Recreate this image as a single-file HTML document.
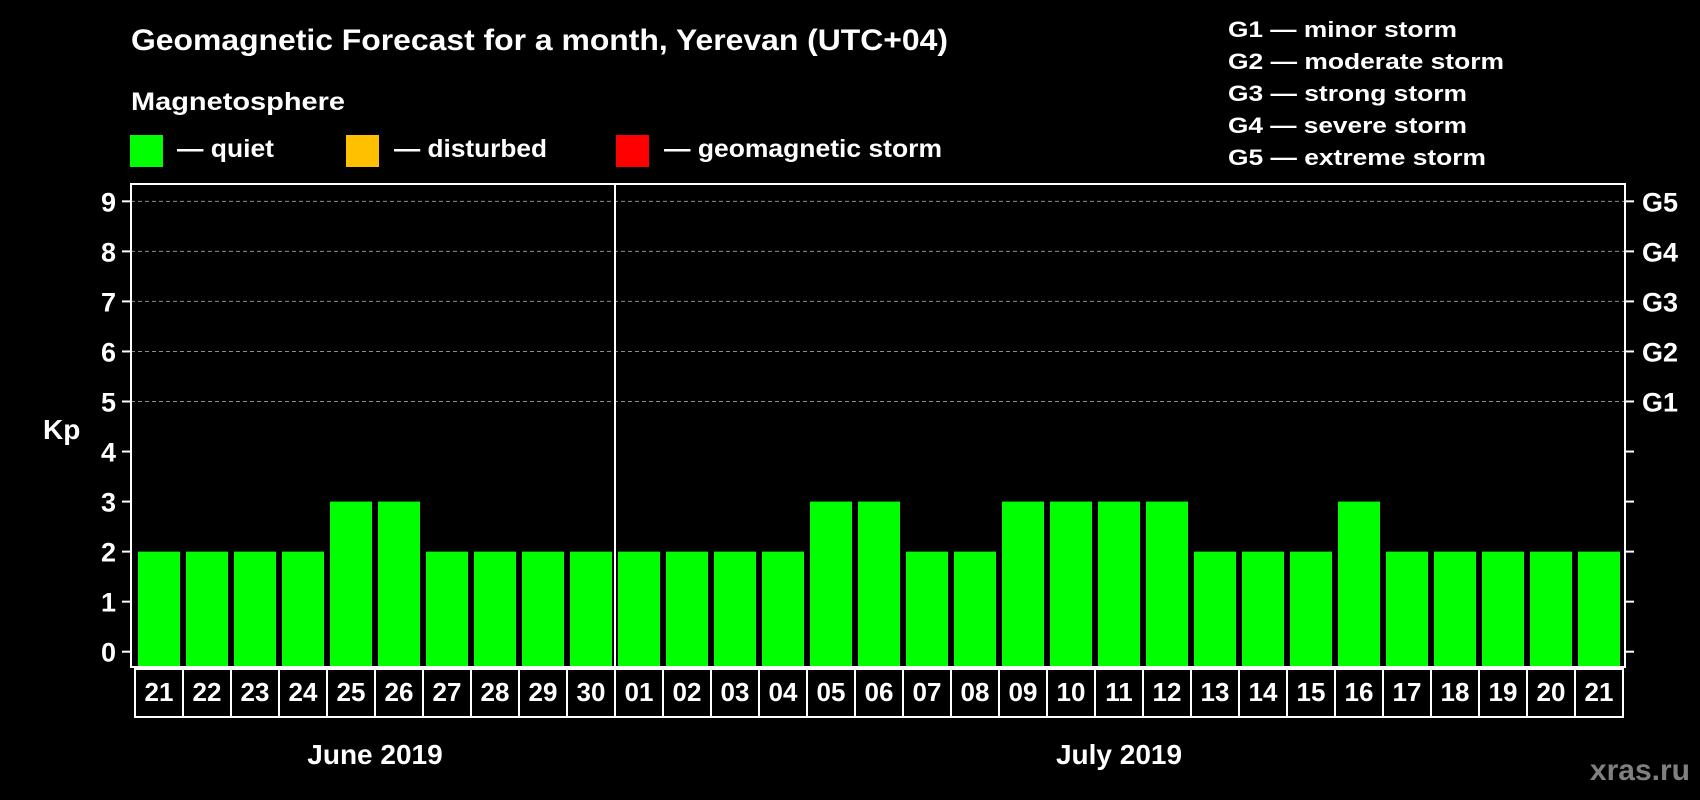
<!DOCTYPE html>
<html><head><meta charset="utf-8"><style>
html,body{margin:0;padding:0;background:#000;}
svg{display:block;font-family:"Liberation Sans",Arial,sans-serif;font-weight:bold;}
</style></head><body>
<svg id="chart" width="1700" height="800" viewBox="0 0 1700 800" xmlns="http://www.w3.org/2000/svg">
<rect width="1700" height="800" fill="#000"/>
<text x="131" y="50" fill="#fff" font-size="30" textLength="817" lengthAdjust="spacingAndGlyphs">Geomagnetic Forecast for a month, Yerevan (UTC+04)</text>
<text x="131" y="110" fill="#fff" font-size="25" textLength="214" lengthAdjust="spacingAndGlyphs">Magnetosphere</text>
<g>
<rect x="130" y="135" width="33" height="32" fill="#00ff00"/>
<text x="177" y="157" fill="#fff" font-size="25" textLength="97" lengthAdjust="spacingAndGlyphs">— quiet</text></g>
<g>
<rect x="346" y="135" width="33" height="32" fill="#ffc000"/>
<text x="394" y="157" fill="#fff" font-size="25" textLength="153" lengthAdjust="spacingAndGlyphs">— disturbed</text></g>
<g>
<rect x="616" y="135" width="33" height="32" fill="#ff0000"/>
<text x="664" y="157" fill="#fff" font-size="25" textLength="278" lengthAdjust="spacingAndGlyphs">— geomagnetic storm</text></g>
<g fill="#fff" font-size="22">
<text x="1228" y="37" textLength="229" lengthAdjust="spacingAndGlyphs">G1 — minor storm</text>
<text x="1228" y="69" textLength="276" lengthAdjust="spacingAndGlyphs">G2 — moderate storm</text>
<text x="1228" y="101" textLength="239" lengthAdjust="spacingAndGlyphs">G3 — strong storm</text>
<text x="1228" y="133" textLength="239" lengthAdjust="spacingAndGlyphs">G4 — severe storm</text>
<text x="1228" y="165" textLength="258" lengthAdjust="spacingAndGlyphs">G5 — extreme storm</text>
</g>
<text x="43" y="439" fill="#fff" font-size="28">Kp</text>
<g id="grid"></g>
<g id="bars"></g>
<g id="axes"></g>
<g id="xlabels"></g>
<text x="375" y="764" fill="#fff" font-size="28" text-anchor="middle">June 2019</text>
<text x="1119" y="764" fill="#fff" font-size="28" text-anchor="middle">July 2019</text>
<text x="1690" y="780" fill="#808080" font-size="30" text-anchor="end">xras.ru</text>
</svg>
<script>
const days = ["21","22","23","24","25","26","27","28","29","30","01","02","03","04","05","06","07","08","09","10","11","12","13","14","15","16","17","18","19","20","21"];
const kpValues = [2,2,2,2,3,3,2,2,2,2,2,2,2,2,3,3,2,2,3,3,3,3,2,2,2,3,2,2,2,2,2];
const yTicks = [0,1,2,3,4,5,6,7,8,9];
const gLevels = [5,6,7,8,9];
const gLabels = ["G1","G2","G3","G4","G5"];

const NS="http://www.w3.org/2000/svg";
const plotL=131, plotR=1625, plotT=184, plotB=667, cellX0=135, cellW=48;
const y0=651.7, unit=50.04;
function yScale(v){return y0-v*unit;}
function xCell(i){return cellX0+i*cellW;}
function colorFor(v){return v>=5?"#ff0000":(v>=4?"#ffc000":"#00ff00");}
function mk(tag,attrs,parent){const e=document.createElementNS(NS,tag);for(const k in attrs)e.setAttribute(k,attrs[k]);parent.appendChild(e);return e;}

const grid=document.getElementById('grid');
gLevels.forEach((v,i)=>{
  const l=mk('line',{x1:plotL,x2:plotR,y1:yScale(v),y2:yScale(v),stroke:'#8a8a8a','stroke-width':1,'stroke-dasharray':'4 3'},grid);
  
  
});

const bars=document.getElementById('bars');
kpValues.forEach((v,i)=>{
  const y=yScale(v);
  const r=mk('rect',{x:xCell(i)+3,y:y,width:42,height:plotB-y,fill:colorFor(v)},bars);
  
  
});

const axes=document.getElementById('axes');
const frame=mk('rect',{x:plotL,y:plotT,width:plotR-plotL,height:plotB-plotT,fill:'none',stroke:'#fff','stroke-width':2},axes);


const div=mk('line',{x1:xCell(10),x2:xCell(10),y1:plotT,y2:plotB,stroke:'#fff','stroke-width':2},axes);


yTicks.forEach(v=>{
  const y=yScale(v);
  mk('line',{x1:122,x2:plotL,y1:y,y2:y,stroke:'#fff','stroke-width':2},axes);
  mk('line',{x1:plotR,x2:1634,y1:y,y2:y,stroke:'#fff','stroke-width':2},axes);
  const t=mk('text',{x:116,y:y+10,fill:'#fff','font-size':27,'text-anchor':'end'},axes);
  t.textContent=v;
  
  
});
gLevels.forEach((v,i)=>{
  const t=mk('text',{x:1642,y:yScale(v)+10,fill:'#fff','font-size':27},axes);
  t.textContent=gLabels[i];
  
  
});

const xl=document.getElementById('xlabels');
days.forEach((d,i)=>{
  const r=mk('rect',{x:xCell(i),y:669,width:cellW,height:48,fill:'#000',stroke:'#fff','stroke-width':2},xl);
  
  
  const t=mk('text',{x:xCell(i)+cellW/2,y:701,fill:'#fff','font-size':26,'text-anchor':'middle'},xl);
  t.textContent=d;
  
  
});
</script>
</body></html>
